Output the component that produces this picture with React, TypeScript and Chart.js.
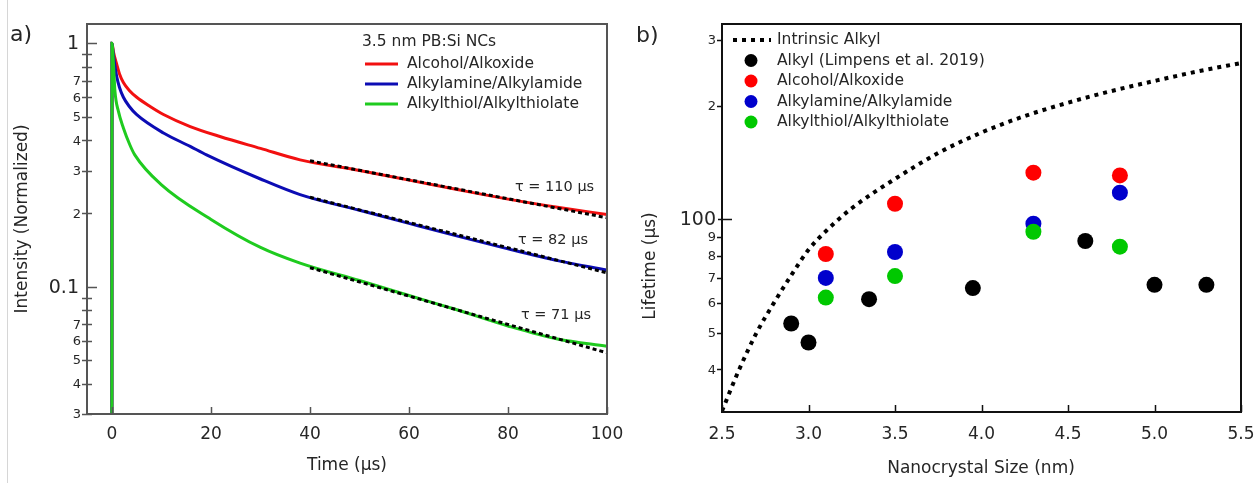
import React, { useEffect, useRef } from "react";
import { Chart, registerables } from "chart.js";
Chart.register(...registerables);

const FONT = "'DejaVu Sans', 'Noto Sans', sans-serif";
const TEXT = "#262626";

// ---------- panel a : PL decay ----------
const timeRed = [-0.02, 0, 0.3, 0.95, 1.5, 2.3, 3.5, 5, 7.7, 10.4, 15.8, 21.8, 30, 38, 50, 60, 70, 80, 90, 100];
const intensityRed = [0.03, 1, 0.92, 0.82, 0.75, 0.69, 0.64, 0.6, 0.55, 0.51, 0.455, 0.414, 0.37, 0.332, 0.3, 0.274, 0.25, 0.229, 0.212, 0.198];
const timeBlue = [-0.02, 0, 0.27, 0.95, 1.5, 2.3, 3.5, 5, 10.4, 15.8, 19.1, 30, 38, 50, 60, 70, 80, 90, 100];
const intensityBlue = [0.03, 1, 0.9, 0.73, 0.66, 0.6, 0.55, 0.509, 0.428, 0.377, 0.348, 0.277, 0.239, 0.206, 0.182, 0.161, 0.143, 0.128, 0.117];
const timeGreen = [-0.02, 0, 0.27, 0.6, 1.3, 2.3, 3.6, 4.6, 10, 20, 30, 38, 50, 60, 70, 80, 90, 100];
const intensityGreen = [0.03, 1, 0.842, 0.634, 0.525, 0.449, 0.383, 0.348, 0.262, 0.189, 0.145, 0.125, 0.106, 0.092, 0.08, 0.069, 0.061, 0.057];
const fitTime = [40, 100];
const fitRed = [0.329, 0.192];
const fitBlue = [0.233, 0.114];
const fitGreen = [0.1197, 0.0535];
const decayLabels = ["Alcohol/Alkoxide", "Alkylamine/Alkylamide", "Alkylthiol/Alkylthiolate"];
const tauLabels = ["τ = 110 µs", "τ = 82 µs", "τ = 71 µs"];

const timeTicks = [0, 20, 40, 60, 80, 100];
const intensityTicks = [0.03, 0.04, 0.05, 0.06, 0.07, 0.08, 0.09, 0.1, 0.2, 0.3, 0.4, 0.5, 0.6, 0.7, 0.8, 0.9, 1];
const intensityMajor = [0.1, 1];
const intensityLabelValues = [1, 0.7, 0.6, 0.5, 0.4, 0.3, 0.2, 0.1, 0.07, 0.06, 0.05, 0.04, 0.03];
const intensityLabelTexts = ["1", "7", "6", "5", "4", "3", "2", "0.1", "7", "6", "5", "4", "3"];

// ---------- panel b : lifetime vs size ----------
const intrinsicSize = [2.5, 2.6, 2.7, 2.8, 2.9, 3.0, 3.1, 3.25, 3.5, 3.75, 4.0, 4.25, 4.5, 4.75, 5.0, 5.25, 5.5];
const intrinsicLife = [31, 40, 50, 60, 71, 83, 93, 107, 128, 150, 170, 188, 204, 219, 233, 247, 260];
const alkylSize = [2.9, 3.0, 3.35, 3.95, 4.6, 5.0, 5.3];
const alkylLife = [52.9, 47.1, 61.4, 65.7, 87.6, 67, 67];
const ncSize = [3.1, 3.5, 4.3, 4.8];
const alcoholLife = [80.9, 110, 133, 130.8];
const amineLife = [69.9, 81.9, 97.4, 117.7];
const thiolLife = [62, 70.7, 92.7, 84.6];
const lifeLegend = ["Intrinsic Alkyl", "Alkyl (Limpens et al. 2019)", "Alcohol/Alkoxide", "Alkylamine/Alkylamide", "Alkylthiol/Alkylthiolate"];

const sizeTicks = [2.5, 3.0, 3.5, 4.0, 4.5, 5.0, 5.5];
const lifeTicks = [40, 50, 60, 70, 80, 90, 100, 200, 300];
const lifeMajor = [100];
const lifeLabelValues = [300, 200, 100, 90, 80, 70, 60, 50, 40];
const lifeLabelTexts = ["3", "2", "100", "9", "8", "7", "6", "5", "4"];

const RED = "#f21010";
const BLUE = "#0c0cb4";
const GREEN = "#1fcb1f";

const pts = (xs: number[], ys: number[]) => xs.map((x, i) => ({ x, y: ys[i] }));

function text(ctx: CanvasRenderingContext2D, s: string, x: number, y: number, size: number, align: CanvasTextAlign = "left") {
  ctx.font = `${size}px ${FONT}`;
  ctx.fillStyle = TEXT;
  ctx.textAlign = align;
  ctx.textBaseline = "middle";
  ctx.fillText(s, x, y);
}

function makeDecor(o: any) {
  return {
    id: "decor",
    afterDraw(chart: any) {
      const ctx: CanvasRenderingContext2D = chart.ctx;
      const { left, right, top, bottom } = chart.chartArea;
      const xs = chart.scales.x;
      const ys = chart.scales.y;
      ctx.save();
      ctx.strokeStyle = o.axisColor;
      ctx.lineWidth = 2;
      ctx.strokeRect(left, top, right - left, bottom - top);
      ctx.lineWidth = 1.5;
      ctx.beginPath();
      for (const v of o.yTicks) {
        const py = Math.round(ys.getPixelForValue(v)) + 0.5;
        if (o.yMajor.includes(v)) {
          ctx.moveTo(left - o.majorOut, py);
          ctx.lineTo(left + o.majorIn, py);
        } else {
          ctx.moveTo(left - o.minorOut, py);
          ctx.lineTo(left + o.minorIn, py);
        }
      }
      for (const v of o.xTicks) {
        const px = Math.round(xs.getPixelForValue(v)) + 0.5;
        ctx.moveTo(px, bottom);
        ctx.lineTo(px, bottom - 7);
      }
      ctx.stroke();
      o.yLabelValues.forEach((v: number, i: number) => {
        const py = ys.getPixelForValue(v);
        const major = o.yMajor.includes(v);
        text(ctx, o.yLabelTexts[i], left - (major ? o.majorGap : o.minorGap), py + 1, major ? 19 : 13, "right");
      });
      o.xTicks.forEach((v: number, i: number) => {
        text(ctx, o.xLabelTexts[i], xs.getPixelForValue(v), o.xLabelY, 17, "center");
      });
      text(ctx, o.xTitle, o.xTitleX, o.xTitleY, 17, "center");
      ctx.save();
      ctx.translate(o.yTitleX, o.yTitleY);
      ctx.rotate(-Math.PI / 2);
      text(ctx, o.yTitle, 0, 0, 17, "center");
      ctx.restore();
      text(ctx, o.panel, o.panelX, o.panelY, 22, "left");
      o.extra(ctx, chart);
      ctx.restore();
    },
  };
}

function drawLegendA(ctx: CanvasRenderingContext2D) {
  text(ctx, "3.5 nm PB:Si NCs", 362, 42, 15.5);
  const cols = [RED, BLUE, GREEN];
  const ys = [64, 84, 104];
  decayLabels.forEach((l, i) => {
    ctx.strokeStyle = cols[i];
    ctx.lineWidth = 3;
    ctx.beginPath();
    ctx.moveTo(365, ys[i]);
    ctx.lineTo(398, ys[i]);
    ctx.stroke();
    text(ctx, l, 407, ys[i], 15.5);
  });
  const tx = [515, 518, 521];
  const ty = [187, 240, 315];
  tauLabels.forEach((l, i) => text(ctx, l, tx[i], ty[i], 14.5));
}

function drawLegendB(ctx: CanvasRenderingContext2D) {
  const off = 628;
  ctx.strokeStyle = "#000";
  ctx.lineWidth = 4;
  ctx.setLineDash([4, 5]);
  ctx.beginPath();
  ctx.moveTo(733 - off, 40);
  ctx.lineTo(771 - off, 40);
  ctx.stroke();
  ctx.setLineDash([]);
  text(ctx, lifeLegend[0], 777 - off, 40, 15.5);
  const cols = ["#000", "#ff0000", "#0000cc", "#00c800"];
  const ys = [60.5, 81, 101.5, 122];
  cols.forEach((c, i) => {
    ctx.fillStyle = c;
    ctx.beginPath();
    ctx.arc(751 - off, ys[i], 6.5, 0, Math.PI * 2);
    ctx.fill();
    text(ctx, lifeLegend[i + 1], 777 - off, ys[i], 15.5);
  });
}

function DecayChart() {
  const ref = useRef<HTMLCanvasElement>(null);
  useEffect(() => {
    const fitStyle = { borderColor: "#000", borderWidth: 3, borderDash: [4, 3], pointRadius: 0, tension: 0, order: 0 };
    const chart = new Chart(ref.current!, {
      type: "line",
      data: {
        datasets: [
          { data: pts(fitTime, fitRed), ...fitStyle },
          { data: pts(fitTime, fitBlue), ...fitStyle },
          { data: pts(fitTime, fitGreen), ...fitStyle },
          { label: decayLabels[2], data: pts(timeGreen, intensityGreen), borderColor: GREEN, borderWidth: 3, pointRadius: 0, cubicInterpolationMode: "monotone", order: 1 },
          { label: decayLabels[1], data: pts(timeBlue, intensityBlue), borderColor: BLUE, borderWidth: 3, pointRadius: 0, cubicInterpolationMode: "monotone", order: 2 },
          { label: decayLabels[0], data: pts(timeRed, intensityRed), borderColor: RED, borderWidth: 3, pointRadius: 0, cubicInterpolationMode: "monotone", order: 3 },
        ],
      },
      options: {
        animation: false,
        responsive: false,
        layout: { padding: { left: 87, top: 24, right: 21, bottom: 69 } },
        scales: {
          x: { type: "linear", min: -5.05, max: 100, display: false },
          y: { type: "logarithmic", min: 0.03, max: 1.2, display: false },
        },
        plugins: { legend: { display: false }, tooltip: { enabled: false } },
      },
      plugins: [
        makeDecor({
          axisColor: "#555",
          yTicks: intensityTicks,
          yMajor: intensityMajor,
          majorOut: 0, majorIn: 10, minorOut: 5, minorIn: 5,
          majorGap: 8, minorGap: 6,
          yLabelValues: intensityLabelValues,
          yLabelTexts: intensityLabelTexts,
          xTicks: timeTicks,
          xLabelTexts: timeTicks.map(String),
          xLabelY: 435,
          xTitle: "Time (µs)", xTitleX: 347, xTitleY: 466,
          yTitle: "Intensity (Normalized)", yTitleX: 23, yTitleY: 219,
          panel: "a)", panelX: 10, panelY: 35,
          extra: drawLegendA,
        }),
      ],
    } as any);
    return () => chart.destroy();
  }, []);
  return <canvas ref={ref} width={628} height={483} style={{ position: "absolute", left: 0, top: 0, width: 628, height: 483 }} />;
}

function LifetimeChart() {
  const ref = useRef<HTMLCanvasElement>(null);
  useEffect(() => {
    const dot = (c: string, order: number) => ({ showLine: false, pointRadius: 8, pointBorderWidth: 0, backgroundColor: c, borderColor: c, pointStyle: "circle", order });
    const chart = new Chart(ref.current!, {
      type: "line",
      data: {
        datasets: [
          { label: lifeLegend[4], data: pts(ncSize, thiolLife), ...dot("#00c800", 0) },
          { label: lifeLegend[3], data: pts(ncSize, amineLife), ...dot("#0000cc", 1) },
          { label: lifeLegend[2], data: pts(ncSize, alcoholLife), ...dot("#ff0000", 2) },
          { label: lifeLegend[1], data: pts(alkylSize, alkylLife), ...dot("#000000", 3) },
          { label: lifeLegend[0], data: pts(intrinsicSize, intrinsicLife), borderColor: "#000", borderWidth: 4, borderDash: [4, 5], pointRadius: 0, cubicInterpolationMode: "monotone", order: 4 },
        ],
      },
      options: {
        animation: false,
        responsive: false,
        layout: { padding: { left: 94, top: 24, right: 15, bottom: 71 } },
        scales: {
          x: { type: "linear", min: 2.5, max: 5.5, display: false },
          y: { type: "logarithmic", min: 30.8, max: 330, display: false },
        },
        plugins: { legend: { display: false }, tooltip: { enabled: false } },
      },
      plugins: [
        makeDecor({
          axisColor: "#111",
          yTicks: lifeTicks,
          yMajor: lifeMajor,
          majorOut: 4, majorIn: 10, minorOut: 5, minorIn: 0,
          majorGap: 6, minorGap: 6,
          yLabelValues: lifeLabelValues,
          yLabelTexts: lifeLabelTexts,
          xTicks: sizeTicks,
          xLabelTexts: sizeTicks.map((v) => v.toFixed(1)),
          xLabelY: 435,
          xTitle: "Nanocrystal Size (nm)", xTitleX: 981 - 628, xTitleY: 469,
          yTitle: "Lifetime (µs)", yTitleX: 651 - 628, yTitleY: 266,
          panel: "b)", panelX: 636 - 628, panelY: 36,
          extra: drawLegendB,
        }),
      ],
    } as any);
    return () => chart.destroy();
  }, []);
  return <canvas ref={ref} width={628} height={483} style={{ position: "absolute", left: 628, top: 0, width: 628, height: 483 }} />;
}

export default function App() {
  return (
    <div style={{ position: "fixed", left: 0, top: 0, width: 1256, height: 483, background: "#fff", overflow: "hidden" }}>
      <div style={{ position: "absolute", left: 7, top: 0, width: 1, height: 483, background: "#d6d6d6" }} />
      <DecayChart />
      <LifetimeChart />
    </div>
  );
}
